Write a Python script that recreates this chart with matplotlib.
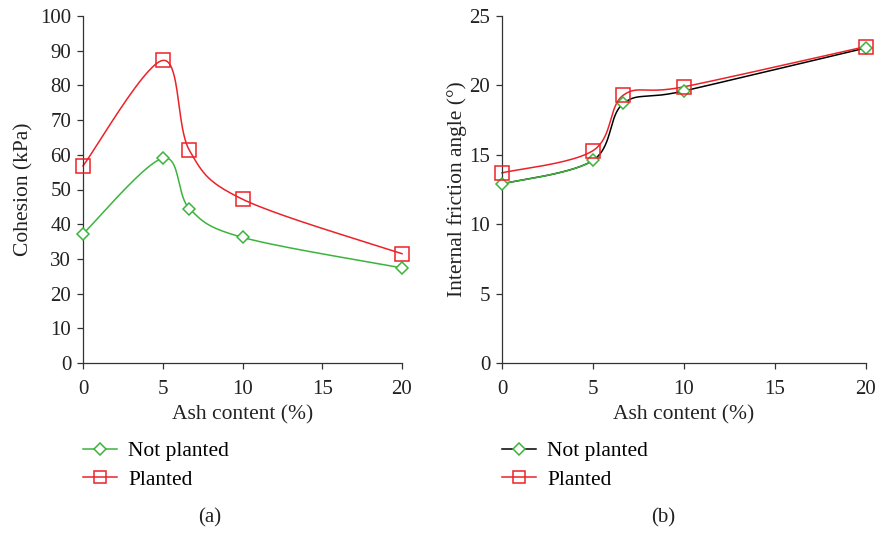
import numpy as np
import matplotlib.pyplot as plt
from matplotlib.lines import Line2D

plt.rcParams['font.family'] = ['Liberation Serif', 'DejaVu Serif']

ash = [0, 5, 6.67, 10, 20]
coh_not = [37.2, 59.0, 44.5, 36.2, 27.4]
coh_pl = [56.8, 87.2, 61.3, 47.2, 31.5]
fri_not = [12.9, 14.6, 18.7, 19.6, 22.7]
fri_pl = [13.7, 15.3, 19.3, 19.9, 22.8]

GREEN = '#3cb43c'
RED = '#ec2228'


def smooth(ax, x, y, n=40):
    # Excel-like smoothed line: Catmull-Rom bezier in display space
    pts = ax.transData.transform(np.column_stack([x, y]))
    P = np.vstack([pts[0], pts, pts[-1]])
    out = []
    t = np.linspace(0, 1, n)[:, None]
    for i in range(1, len(P) - 2):
        p0, p1, p2, p3 = P[i - 1], P[i], P[i + 1], P[i + 2]
        c1 = p1 + (p2 - p0) / 6
        c2 = p2 - (p3 - p1) / 6
        seg = (1 - t) ** 3 * p1 + 3 * (1 - t) ** 2 * t * c1 + 3 * (1 - t) * t ** 2 * c2 + t ** 3 * p2
        out.append(seg)
    out = np.vstack(out)
    return ax.transData.inverted().transform(out).T


fig = plt.figure(figsize=(8.76, 5.33), dpi=100)
ax1 = fig.add_axes([83 / 876, 1 - 363 / 533, 319 / 876, 347 / 533])
ax2 = fig.add_axes([502 / 876, 1 - 363 / 533, 364 / 876, 347 / 533])

ax1.set_xlim(0, 20)
ax1.set_ylim(0, 100)
ax2.set_xlim(0, 20)
ax2.set_ylim(0, 25)

for ax in (ax1, ax2):
    ax.spines['top'].set_visible(False)
    ax.spines['right'].set_visible(False)
    for s in ('left', 'bottom'):
        ax.spines[s].set_color('#333333')
        ax.spines[s].set_linewidth(0.9)
    ax.set_xticks([0, 5, 10, 15, 20])
    ax.tick_params(direction='out', length=4.5, width=0.9, colors='#333333', labelsize=15,
                   labelcolor='#222222', pad=4)
    ax.tick_params(axis='x', pad=8)
    ax.set_xlabel('Ash content (%)', fontsize=15.5, color='#222222', labelpad=4)
    for sp in ax.spines.values():
        sp.set_clip_on(False)

ax1.set_yticks(range(0, 101, 10))
ax2.set_yticks(range(0, 26, 5))
ax1.set_ylabel('Cohesion (kPa)', fontsize=15.5, color='#222222', labelpad=5)
ax2.set_ylabel('Internal friction angle (°)', fontsize=15.5, color='#222222', labelpad=2)

mk_d = dict(marker='D', markersize=6.5, markerfacecolor='white', markeredgewidth=1.1, linestyle='none',
            clip_on=False, zorder=4)
mk_s = dict(marker='s', markersize=9.5, markerfacecolor='none', markeredgewidth=1.1, linestyle='none',
            clip_on=False, zorder=5)

# (a) cohesion
sx, sy = smooth(ax1, ash, coh_not)
ax1.plot(sx, sy, color=GREEN, lw=1.1, clip_on=False)
sx, sy = smooth(ax1, ash, coh_pl)
ax1.plot(sx, sy, color=RED, lw=1.1, clip_on=False)
ax1.plot(ash, coh_not, color=GREEN, markeredgecolor=GREEN, **mk_d)
ax1.plot(ash, coh_pl, color=RED, markeredgecolor=RED, **mk_s)

# (b) friction angle
sx, sy = smooth(ax2, ash, fri_not)
half = len(sx) // 4
ax2.plot(sx, sy, color='black', lw=1.1, clip_on=False)
ax2.plot(sx[:half], sy[:half], color=GREEN, lw=1.1, clip_on=False)
sx, sy = smooth(ax2, ash, fri_pl)
ax2.plot(sx, sy, color=RED, lw=1.1, clip_on=False)
ax2.plot(ash, fri_not, color=GREEN, markeredgecolor=GREEN, **mk_d)
ax2.plot(ash, fri_pl, color=RED, markeredgecolor=RED, **mk_s)


def legend_handles(not_color):
    h1 = Line2D([], [], color=not_color, lw=1.1, marker='D', markersize=6.5, markerfacecolor='white',
                markeredgecolor=GREEN, markeredgewidth=1.1)
    h2 = Line2D([], [], color=RED, lw=1.1, marker='s', markersize=8.5, markerfacecolor='none',
                markeredgecolor=RED, markeredgewidth=1.1)
    return [h1, h2]


for hx, col in ((83 / 876, GREEN), (502 / 876, 'black')):
    fig.legend(legend_handles(col), ['Not planted', 'Planted'], loc='upper left',
               bbox_to_anchor=(hx, 1 - 441 / 533), frameon=False, fontsize=15.5,
               handlelength=1.6, handletextpad=0.5, labelspacing=0.4, borderaxespad=0,
               borderpad=0)

fig.text(210 / 876, 1 - 518 / 533, '(a)', fontsize=15, ha='center', va='center', color='#222222')
fig.text(663 / 876, 1 - 518 / 533, '(b)', fontsize=15, ha='center', va='center', color='#222222')

fig.savefig('out.png', dpi=100)
